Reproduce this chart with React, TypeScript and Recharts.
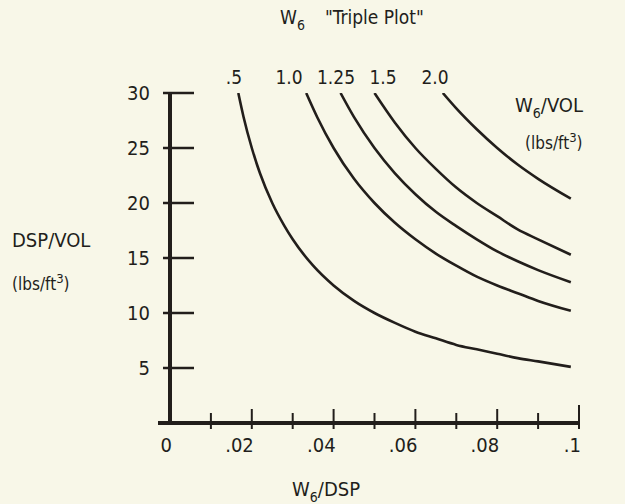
import React from "react";
import { LineChart, Line, XAxis, YAxis } from "recharts";

// W6/VOL curve names (lbs/ft^3)
const curveNames = [".5", "1.0", "1.25", "1.5", "2.0"];

// Points: x = W6/DSP, y = DSP/VOL
const curve05X = [0.0167, 0.018, 0.02, 0.022, 0.025, 0.028, 0.03, 0.035, 0.04, 0.045, 0.05, 0.055, 0.06, 0.065, 0.07, 0.075, 0.08, 0.085, 0.09, 0.098];
const curve05Y = [30, 27.8, 25, 22.7, 20, 17.9, 16.7, 14.3, 12.5, 11.1, 10, 9.1, 8.3, 7.7, 7.1, 6.7, 6.3, 5.9, 5.6, 5.1];
const curve10X = [0.0333, 0.036, 0.04, 0.045, 0.05, 0.055, 0.06, 0.065, 0.07, 0.075, 0.08, 0.085, 0.09, 0.098];
const curve10Y = [30, 27.8, 25, 22.2, 20, 18.2, 16.7, 15.4, 14.3, 13.3, 12.5, 11.8, 11.1, 10.2];
const curve125X = [0.0417, 0.045, 0.05, 0.055, 0.06, 0.065, 0.07, 0.075, 0.08, 0.085, 0.09, 0.098];
const curve125Y = [30, 27.8, 25, 22.7, 20.8, 19.2, 17.9, 16.7, 15.6, 14.7, 13.9, 12.8];
const curve15X = [0.05, 0.055, 0.06, 0.065, 0.07, 0.075, 0.08, 0.085, 0.09, 0.098];
const curve15Y = [30, 27.3, 25, 23.1, 21.4, 20, 18.8, 17.6, 16.7, 15.3];
const curve20X = [0.0667, 0.07, 0.075, 0.08, 0.085, 0.09, 0.098];
const curve20Y = [30, 28.6, 26.7, 25, 23.5, 22.2, 20.4];

const xTicks = [0, 0.01, 0.02, 0.03, 0.04, 0.05, 0.06, 0.07, 0.08, 0.09, 0.1];
const xTickLabels = ["0", "", ".02", "", ".04", "", ".06", "", ".08", "", ".1"];
const yTicks = [0, 5, 10, 15, 20, 25, 30];
const yTickLabels = ["", "5", "10", "15", "20", "25", "30"];

const toPoints = (xs: number[], ys: number[]) => xs.map((x, i) => ({ x, y: ys[i] }));
const curves = [
  toPoints(curve05X, curve05Y),
  toPoints(curve10X, curve10Y),
  toPoints(curve125X, curve125Y),
  toPoints(curve15X, curve15Y),
  toPoints(curve20X, curve20Y),
];

const INK = "#221e1b";
const BG = "#f8f7e8";
const FONT = "'Liberation Sans Narrow', 'DejaVu Sans Condensed', 'Arial Narrow', sans-serif";

const XTick = (props: any) => {
  const { x, y, index } = props;
  const major = index % 2 === 0;
  const last = index === xTicks.length - 1;
  const label = xTickLabels[index];
  return (
    <g>
      {index === 0 ? (
        <line x1={x - 12} y1={y} x2={x} y2={y} stroke={INK} strokeWidth={4} />
      ) : (
        <line x1={x} y1={y - (last ? 18 : major ? 14 : 10)} x2={x} y2={y + 6} stroke={INK} strokeWidth={2} />
      )}
      {label ? (
        <text x={x + 2} y={y + 29} textAnchor="end" fontFamily={FONT} fontSize={20} fill={INK}>
          {label}
        </text>
      ) : null}
    </g>
  );
};

const YTick = (props: any) => {
  const { x, y, index } = props;
  const label = yTickLabels[index];
  if (!label) return <g />;
  return (
    <g>
      <line x1={x - 7} y1={y} x2={x + 24} y2={y} stroke={INK} strokeWidth={2.5} />
      <text x={x - 20} y={y + 7} textAnchor="end" fontFamily={FONT} fontSize={20} fill={INK}>
        {label}
      </text>
    </g>
  );
};

export default function App() {
  return (
    <div style={{ position: "absolute", left: 0, top: 0, width: 625, height: 504, background: BG, fontFamily: FONT }}>
      <LineChart width={625} height={504} margin={{ top: 93, right: 46, bottom: 41, left: 110 }}>
        <XAxis
          type="number"
          dataKey="x"
          domain={[0, 0.1]}
          ticks={xTicks}
          interval={0}
          height={40}
          tickSize={0}
          tickMargin={0}
          tick={<XTick />}
          tickLine={false}
          axisLine={{ stroke: INK, strokeWidth: 4 }}
          allowDataOverflow
        />
        <YAxis
          type="number"
          dataKey="y"
          domain={[0, 30]}
          ticks={yTicks}
          interval={0}
          width={60}
          tickSize={0}
          tickMargin={0}
          tick={<YTick />}
          tickLine={false}
          axisLine={{ stroke: INK, strokeWidth: 4 }}
          allowDataOverflow
        />
        {curves.map((pts, i) => (
          <Line
            key={curveNames[i]}
            data={pts}
            dataKey="y"
            type="monotone"
            stroke={INK}
            strokeWidth={2.6}
            dot={false}
            activeDot={false}
            isAnimationActive={false}
          />
        ))}
      </LineChart>
      <svg width={625} height={504} style={{ position: "absolute", left: 0, top: 0, pointerEvents: "none" }}>
        <g fontFamily={FONT} fill={INK}>
          <text x={280} y={24} fontSize={19}>
            W<tspan fontSize={14} dy={6}>6</tspan>
            <tspan dy={-6} dx={20}>"Triple Plot"</tspan>
          </text>
          <text x={234} y={84} fontSize={19} textAnchor="middle">{curveNames[0]}</text>
          <text x={289} y={84} fontSize={19} textAnchor="middle">{curveNames[1]}</text>
          <text x={336} y={84} fontSize={19} textAnchor="middle">{curveNames[2]}</text>
          <text x={383} y={84} fontSize={19} textAnchor="middle">{curveNames[3]}</text>
          <text x={435} y={84} fontSize={19} textAnchor="middle">{curveNames[4]}</text>
          <text x={515} y={112} fontSize={20}>
            W<tspan fontSize={14} dy={6}>6</tspan>
            <tspan dy={-6}>/VOL</tspan>
          </text>
          <text x={525} y={149} fontSize={17}>
            (lbs/ft<tspan fontSize={13} dy={-7}>3</tspan>
            <tspan dy={7}>)</tspan>
          </text>
          <text x={12} y={247} fontSize={20}>DSP/VOL</text>
          <text x={12} y={290} fontSize={17}>
            (lbs/ft<tspan fontSize={13} dy={-7}>3</tspan>
            <tspan dy={7}>)</tspan>
          </text>
          <text x={292} y={496} fontSize={20}>
            W<tspan fontSize={14} dy={6}>6</tspan>
            <tspan dy={-6}>/DSP</tspan>
          </text>
        </g>
      </svg>
    </div>
  );
}
